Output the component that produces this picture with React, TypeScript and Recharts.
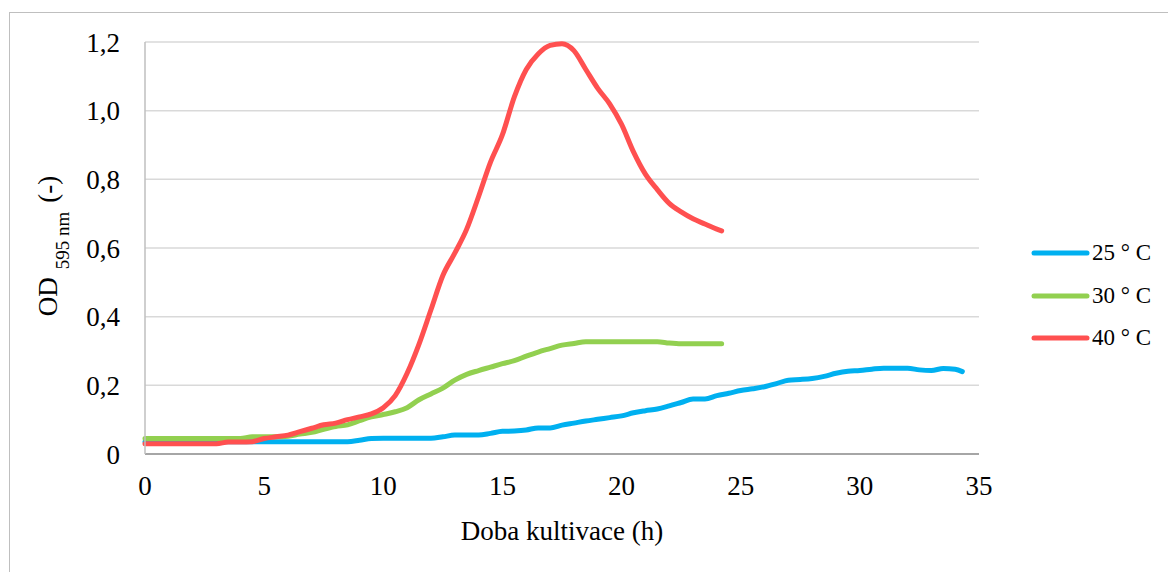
import { LineChart, Line, XAxis, YAxis, CartesianGrid, Label } from 'recharts';

// sampling times (h)
const hoursLong = [
  0, 0.5, 1, 1.5, 2, 2.5, 3, 3.5, 4, 4.5, 5, 5.5, 6, 6.5, 7, 7.5, 8, 8.5, 9, 9.5,
  10, 10.5, 11, 11.5, 12, 12.5, 13, 13.5, 14, 14.5, 15, 15.5, 16, 16.5, 17, 17.5,
  18, 18.5, 19, 19.5, 20, 20.5, 21, 21.5, 22, 22.5, 23, 23.5, 24, 24.5, 25, 25.5,
  26, 26.5, 27, 27.5, 28, 28.5, 29, 29.5, 30, 30.5, 31, 31.5, 32, 32.5, 33, 33.5,
  34, 34.3,
];
const hoursShort = [
  0, 0.5, 1, 1.5, 2, 2.5, 3, 3.5, 4, 4.5, 5, 5.5, 6, 6.5, 7, 7.5, 8, 8.5, 9, 9.5,
  10, 10.5, 11, 11.5, 12, 12.5, 13, 13.5, 14, 14.5, 15, 15.5, 16, 16.5, 17, 17.5,
  18, 18.5, 19, 19.5, 20, 20.5, 21, 21.5, 22, 22.5, 23, 23.5, 24, 24.2,
];

// OD 595 nm
const od25 = [
  0.036, 0.036, 0.036, 0.036, 0.036, 0.036, 0.036, 0.036, 0.036, 0.036, 0.036, 0.036,
  0.036, 0.036, 0.036, 0.036, 0.036, 0.036, 0.04, 0.045, 0.046, 0.046, 0.046, 0.046,
  0.046, 0.05, 0.055, 0.055, 0.055, 0.06, 0.066, 0.067, 0.07, 0.076, 0.076, 0.084,
  0.09, 0.096, 0.101, 0.106, 0.111, 0.12, 0.126, 0.131, 0.14, 0.15, 0.16, 0.16,
  0.17, 0.177, 0.185, 0.19, 0.196, 0.205, 0.215, 0.217, 0.22, 0.226, 0.235, 0.241,
  0.243, 0.247, 0.25, 0.25, 0.25, 0.245, 0.243, 0.249, 0.247, 0.24,
];
const od30 = [
  0.045, 0.045, 0.045, 0.045, 0.045, 0.045, 0.045, 0.045, 0.045, 0.05, 0.05, 0.05,
  0.052, 0.058, 0.063, 0.072, 0.08, 0.085, 0.097, 0.108, 0.115, 0.123, 0.135, 0.158,
  0.175, 0.192, 0.215, 0.232, 0.243, 0.253, 0.263, 0.272, 0.285, 0.297, 0.307, 0.317,
  0.322, 0.327, 0.327, 0.327, 0.327, 0.327, 0.327, 0.327, 0.323, 0.321, 0.321, 0.321,
  0.321, 0.321,
];
const od40 = [
  0.03, 0.03, 0.03, 0.03, 0.03, 0.03, 0.03, 0.035, 0.035, 0.036, 0.045, 0.05,
  0.055, 0.065, 0.075, 0.085, 0.09, 0.1, 0.108, 0.117, 0.135, 0.17, 0.235, 0.32,
  0.42, 0.52, 0.585, 0.655, 0.75, 0.85, 0.93, 1.04, 1.12, 1.165, 1.19, 1.195,
  1.175, 1.12, 1.065, 1.02, 0.96, 0.88, 0.815, 0.77, 0.73, 0.705, 0.685, 0.67,
  0.655, 0.65,
];

const xTicks = [0, 5, 10, 15, 20, 25, 30, 35];
const yTicks = [0, 0.2, 0.4, 0.6, 0.8, 1.0, 1.2];

const series = [
  { name: '25 ° C', color: '#00B0F0', data: hoursLong.map((t, i) => ({ t, od: od25[i] })) },
  { name: '30 ° C', color: '#92D050', data: hoursShort.map((t, i) => ({ t, od: od30[i] })) },
  { name: '40 ° C', color: '#FF5050', data: hoursShort.map((t, i) => ({ t, od: od40[i] })) },
];

const FONT = '"Liberation Serif", "Times New Roman", serif';

const fmtY = (v: number) => (v === 0 ? '0' : v.toFixed(1).replace('.', ','));

const YTitle = () => (
  <text
    x={57}
    y={246}
    transform="rotate(-90, 57, 246)"
    textAnchor="middle"
    fontFamily={FONT}
    fontSize={27}
    fill="#000"
  >
    OD
    <tspan fontSize={19} dy={12} dx={8}>595 nm</tspan>
    <tspan dy={-12} dx={9}>(-)</tspan>
  </text>
);

const XTitle = () => (
  <text x={562} y={540} textAnchor="middle" fontFamily={FONT} fontSize={27} fill="#000">
    Doba kultivace (h)
  </text>
);

export default function App() {
  return (
    <div
      style={{
        position: 'absolute',
        left: 0,
        top: 0,
        width: 1168,
        height: 572,
        background: '#fff',
        fontFamily: FONT,
        overflow: 'hidden',
      }}
    >
      <div
        style={{
          position: 'absolute',
          left: 9,
          top: 12,
          width: 1170,
          height: 580,
          border: '1.5px solid #BFBFBF',
        }}
      />
      <LineChart
        width={1168}
        height={572}
        margin={{ top: 42, right: 189, bottom: 0, left: 0 }}
        style={{ position: 'absolute', left: 0, top: 0, fontFamily: FONT }}
      >
        <CartesianGrid vertical={false} stroke="#D9D9D9" strokeWidth={1.5} />
        <XAxis
          dataKey="t"
          type="number"
          domain={[0, 35]}
          ticks={xTicks}
          allowDuplicatedCategory={false}
          height={118}
          axisLine={{ stroke: '#A6A6A6', strokeWidth: 2 }}
          tickLine={false}
          tickSize={0}
          tickMargin={22}
          tick={{ fill: '#000', fontSize: 27, fontFamily: FONT }}
          label={<Label content={XTitle} />}
        />
        <YAxis
          type="number"
          domain={[0, 1.2]}
          ticks={yTicks}
          width={145}
          tickFormatter={fmtY}
          axisLine={{ stroke: '#BFBFBF', strokeWidth: 1.5 }}
          tickLine={false}
          tickSize={0}
          tickMargin={25}
          tick={{ fill: '#000', fontSize: 27, fontFamily: FONT }}
          label={<Label content={YTitle} />}
        />
        {series.map(s => (
          <Line
            key={s.name}
            data={s.data}
            dataKey="od"
            name={s.name}
            type="monotone"
            stroke={s.color}
            strokeWidth={5}
            strokeLinecap="round"
            dot={false}
            activeDot={false}
            isAnimationActive={false}
          />
        ))}
      </LineChart>
      <div
        style={{
          position: 'absolute',
          left: 1030,
          top: 232,
          fontSize: 23,
          color: '#000',
        }}
      >
        {series.map(s => (
          <div key={s.name} style={{ display: 'flex', alignItems: 'center', height: 42.5 }}>
            <svg width={60} height={8}>
              <line x1={4} y1={4} x2={57} y2={4} stroke={s.color} strokeWidth={5} strokeLinecap="round" />
            </svg>
            <span style={{ whiteSpace: 'nowrap', marginLeft: 2 }}>{s.name}</span>
          </div>
        ))}
      </div>
    </div>
  );
}
